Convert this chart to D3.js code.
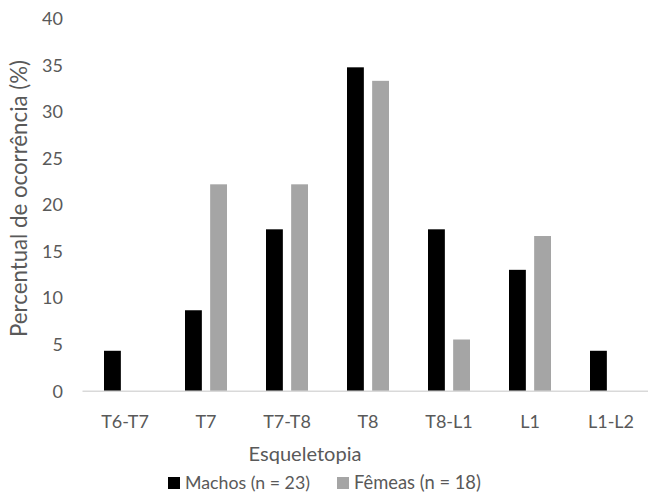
<!DOCTYPE html>
<html>
<head>
<meta charset="utf-8">
<script src="https://cdn.jsdelivr.net/npm/d3@7/dist/d3.min.js"></script>
<style>
  html, body { margin: 0; padding: 0; background: #fff; }
  svg { display: block; }
  text { font-family: Lato, "Open Sans", sans-serif; fill: #595959; }
</style>
</head>
<body>
<svg id="chart" width="648" height="493"></svg>
<script>
const categories = ["T6-T7", "T7", "T7-T8", "T8", "T8-L1", "L1", "L1-L2"];
const seriesNames = ["Machos (n = 23)", "Fêmeas (n = 18)"];
const machos = [4.35, 8.7, 17.39, 34.78, 17.39, 13.04, 4.35];
const femeas = [0, 22.22, 22.22, 33.33, 5.56, 16.67, 0];
const yTicks = [0, 5, 10, 15, 20, 25, 30, 35, 40];
const colors = ["#000000", "#a5a5a5"];

const svg = d3.select("#chart");
const mLeft = 84.5, mRight = 651.5, mTop = 18.7, mBottom = 391.3;

const x = d3.scaleBand().domain(categories).range([mLeft, mRight]).paddingInner(0).paddingOuter(0);
const xs = d3.scaleBand().domain([0, 1]).range([x.bandwidth()/2 - 21, x.bandwidth()/2 + 21]).paddingInner(0.33);
const y = d3.scaleLinear().domain([0, 40]).range([mBottom, mTop]);

const data = categories.map((c, i) => ({ cat: c, vals: [machos[i], femeas[i]] }));

function fit(sel, target, base) {
  sel.attr("font-size", base);
  const w = sel.node().getComputedTextLength();
  if (w > 0) sel.attr("font-size", Math.max(base * 0.85, Math.min(base * 1.2, base * target / w)));
  return sel;
}

// bars
const g = svg.append("g");
data.forEach(d => {
  d.vals.forEach((v, s) => {
    if (v <= 0) return;
    g.append("rect")
      .attr("x", x(d.cat) + xs(s))
      .attr("width", xs.bandwidth())
      .attr("y", y(v))
      .attr("height", y(0) - y(v))
      .attr("fill", colors[s]);
  });
});

// x axis line
svg.append("line")
  .attr("x1", mLeft - 2).attr("x2", mRight)
  .attr("y1", y(0)).attr("y2", y(0))
  .attr("stroke", "#d9d9d9").attr("stroke-width", 1.5);

// y tick labels
const yAxis = d3.axisLeft(y).tickValues(yTicks).tickSize(0).tickPadding(0);
const ya = svg.append("g").attr("transform", "translate(63,0)").call(yAxis);
ya.select(".domain").remove();
ya.selectAll("text").attr("font-size", 18).style("font-family", "Lato, 'Open Sans', sans-serif").attr("fill", "#595959");

// x tick labels
const xAxis = d3.axisBottom(x).tickSize(0).tickPadding(0);
const xa = svg.append("g").attr("transform", `translate(0,${y(0)})`).call(xAxis);
xa.select(".domain").remove();
xa.selectAll("text").attr("font-size", 18).attr("dy", null).attr("y", 37)
  .style("font-family", "Lato, 'Open Sans', sans-serif").attr("fill", "#595959");

// axis titles
const yt = svg.append("text")
  .attr("transform", "translate(27,198.5) rotate(-90)")
  .attr("text-anchor", "middle")
  .text("Percentual de ocorrência (%)");
fit(yt, 277, 19.5);

const xt = svg.append("text")
  .attr("x", 305).attr("y", 461)
  .attr("text-anchor", "middle")
  .text("Esqueletopia");
fit(xt, 113, 20);

// legend
const legend = svg.append("g");
const legendX = [168, 337];
const legendW = [125, 127];
seriesNames.forEach((n, i) => {
  legend.append("rect").attr("x", legendX[i]).attr("y", 477).attr("width", 12).attr("height", 12).attr("fill", colors[i]);
  const t = legend.append("text").attr("x", legendX[i] + 17).attr("y", 488.5).text(n);
  fit(t, legendW[i], 18);
});
</script>
</body>
</html>
